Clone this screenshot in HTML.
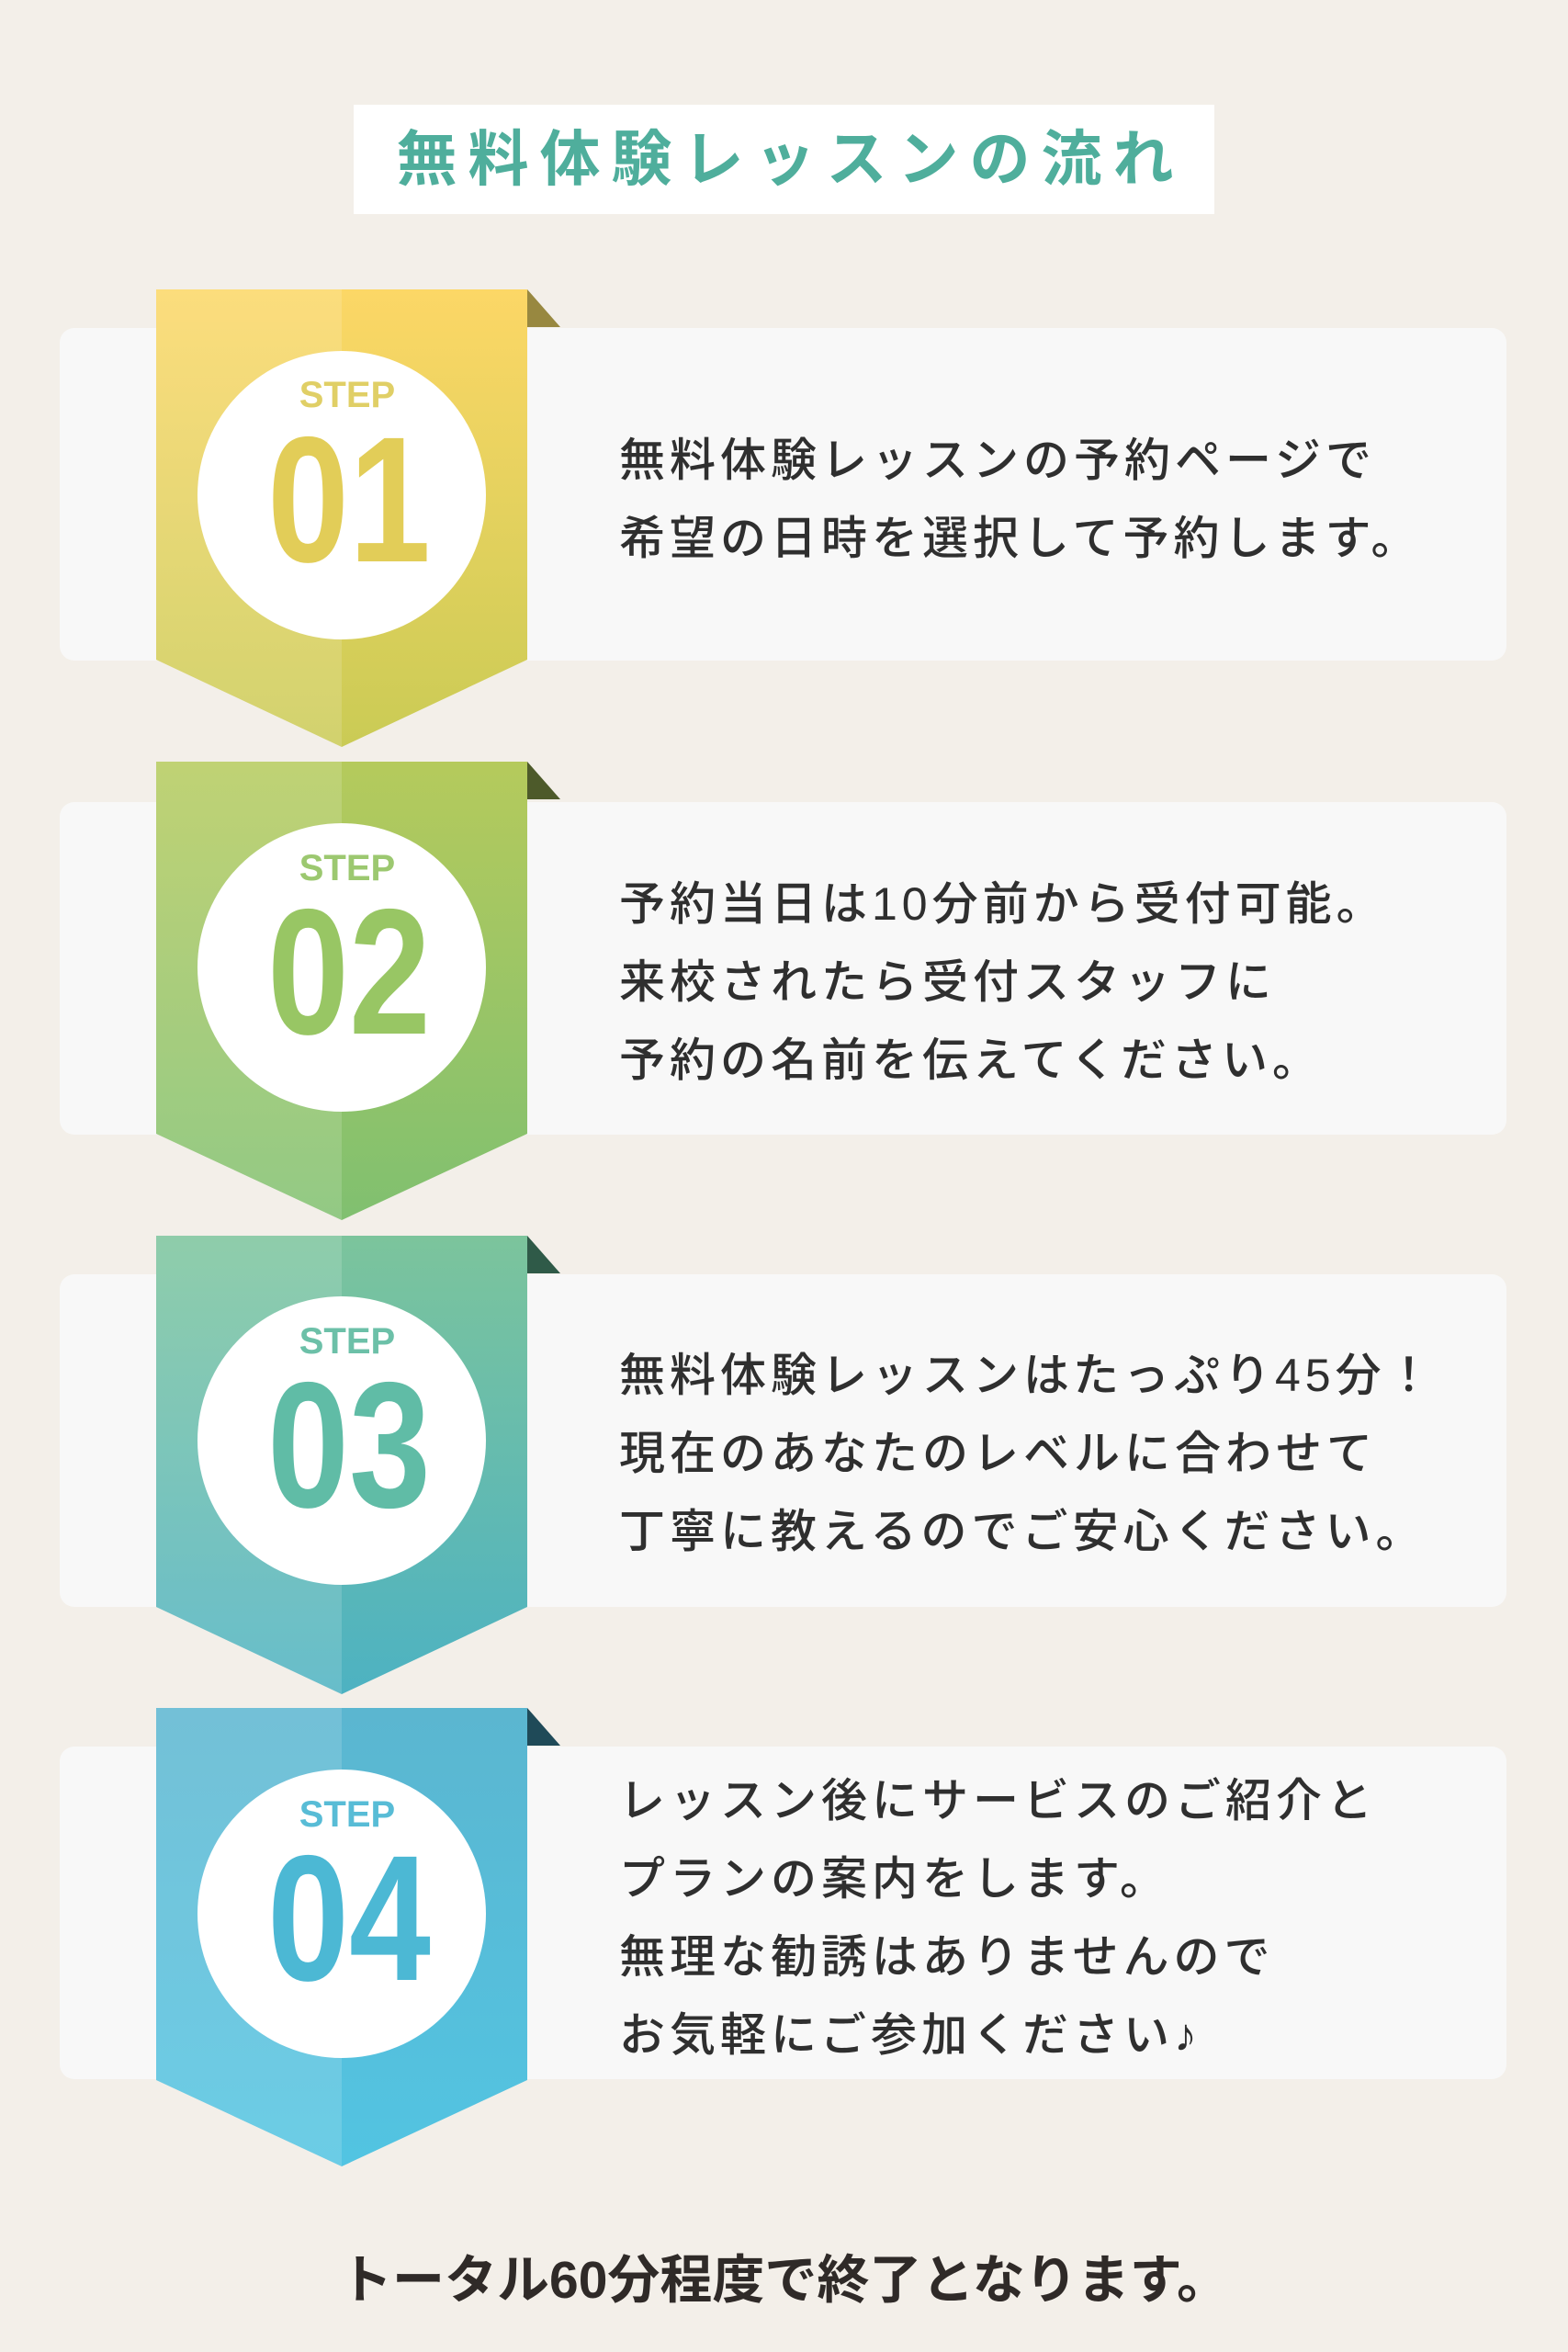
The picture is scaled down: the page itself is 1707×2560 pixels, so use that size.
<!DOCTYPE html>
<html><head><meta charset="utf-8"><style>
body{margin:0;width:1707px;height:2560px;background:#f3efe9;position:relative;overflow:hidden;font-family:"Liberation Sans","Noto Sans CJK JP",sans-serif}
.t{position:absolute;left:674px;font-size:50px;line-height:85px;color:#2f2f2f;letter-spacing:5px;white-space:nowrap;font-weight:500}
.card{position:absolute;left:65px;width:1575px;height:362px;background:#f8f8f8;border-radius:16px}
</style></head><body>
<div style="position:absolute;left:385px;top:114px;width:937px;height:119px;background:#fff"></div>
<div style="position:absolute;left:392px;top:114px;width:937px;height:119px;line-height:119px;text-align:center;font-size:66px;font-weight:bold;color:#4fae9c;letter-spacing:12px">無料体験レッスンの流れ</div>
<div class="card" style="top:357px"></div>
<div class="card" style="top:873px"></div>
<div class="card" style="top:1387px"></div>
<div class="card" style="top:1901px"></div>
<svg width="1707" height="2560" style="position:absolute;left:0;top:0">
<defs>
<linearGradient id="g1" x1="0" y1="0" x2="0" y2="1"><stop offset="0" stop-color="#fcd766"/><stop offset="1" stop-color="#cacb55"/></linearGradient>
<linearGradient id="g2" x1="0" y1="0" x2="0" y2="1"><stop offset="0" stop-color="#b5ca5c"/><stop offset="1" stop-color="#80c070"/></linearGradient>
<linearGradient id="g3" x1="0" y1="0" x2="0" y2="1"><stop offset="0" stop-color="#7cc49c"/><stop offset="1" stop-color="#4db2c2"/></linearGradient>
<linearGradient id="g4" x1="0" y1="0" x2="0" y2="1"><stop offset="0" stop-color="#5bb6d0"/><stop offset="1" stop-color="#52c4e2"/></linearGradient>
</defs>
<g font-family="Liberation Sans, sans-serif" font-weight="bold" text-anchor="middle">
<polygon points="574,315 610,356 574,356" fill="#988840"/>
<polygon points="170,315 574,315 574,718 372,813 170,718" fill="url(#g1)"/>
<polygon points="170,315 372,315 372,813 170,718" fill="#fff" opacity="0.15"/>
<circle cx="372" cy="539" r="157" fill="#fff"/>
<text x="378" y="443" font-size="40" fill="#e0cf66">STEP</text>
<text x="380" y="611" font-size="195" fill="#e2cd58" transform="translate(380 0) scale(0.82 1) translate(-380 0)">01</text>
<polygon points="574,829 610,870 574,870" fill="#4d5a2a"/>
<polygon points="170,829 574,829 574,1234 372,1328 170,1234" fill="url(#g2)"/>
<polygon points="170,829 372,829 372,1328 170,1234" fill="#fff" opacity="0.15"/>
<circle cx="372" cy="1053" r="157" fill="#fff"/>
<text x="378" y="958" font-size="40" fill="#9cc870">STEP</text>
<text x="380" y="1125" font-size="195" fill="#98c664" transform="translate(380 0) scale(0.82 1) translate(-380 0)">02</text>
<polygon points="574,1345 610,1386 574,1386" fill="#2f5a48"/>
<polygon points="170,1345 574,1345 574,1749 372,1844 170,1749" fill="url(#g3)"/>
<polygon points="170,1345 372,1345 372,1844 170,1749" fill="#fff" opacity="0.15"/>
<circle cx="372" cy="1568" r="157" fill="#fff"/>
<text x="378" y="1473" font-size="40" fill="#6cc0a8">STEP</text>
<text x="380" y="1640" font-size="195" fill="#60bca6" transform="translate(380 0) scale(0.82 1) translate(-380 0)">03</text>
<polygon points="574,1859 610,1900 574,1900" fill="#1f4a58"/>
<polygon points="170,1859 574,1859 574,2264 372,2358 170,2264" fill="url(#g4)"/>
<polygon points="170,1859 372,1859 372,2358 170,2264" fill="#fff" opacity="0.15"/>
<circle cx="372" cy="2083" r="157" fill="#fff"/>
<text x="378" y="1988" font-size="40" fill="#58bcd6">STEP</text>
<text x="380" y="2155" font-size="195" fill="#4cb8d4" transform="translate(380 0) scale(0.82 1) translate(-380 0)">04</text>
</g>
</svg>
<div class="t" style="top:459px">無料体験レッスンの予約ページで<br>希望の日時を選択して予約します。</div>
<div class="t" style="top:942px">予約当日は10分前から受付可能。<br>来校されたら受付スタッフに<br>予約の名前を伝えてください。</div>
<div class="t" style="top:1455px">無料体験レッスンはたっぷり45分！<br>現在のあなたのレベルに合わせて<br>丁寧に教えるのでご安心ください。</div>
<div class="t" style="top:1918px">レッスン後にサービスのご紹介と<br>プランの案内をします。<br>無理な勧誘はありませんので<br>お気軽にご参加ください♪</div>
<div style="position:absolute;left:10px;width:1688px;top:2436px;text-align:center;font-size:57px;font-weight:bold;color:#2f2a28;letter-spacing:0px">トータル60分程度で終了となります。</div>
</body></html>
